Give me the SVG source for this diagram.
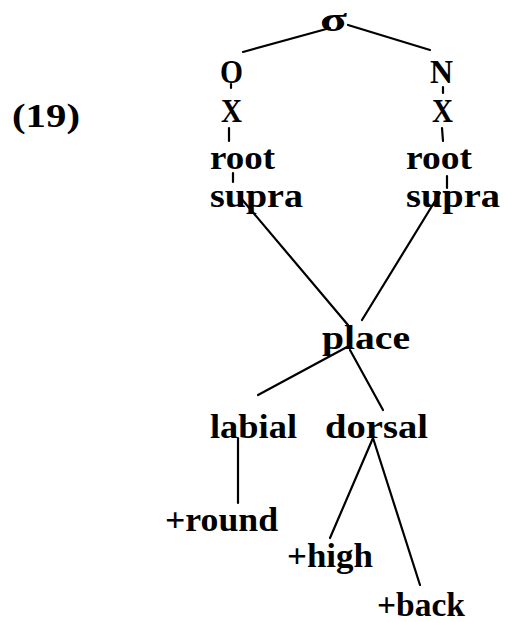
<svg xmlns="http://www.w3.org/2000/svg" width="506" height="622" viewBox="0 0 506 622">
<style>
text{font-family:"Liberation Serif","DejaVu Serif",serif;font-weight:bold;font-size:34px;fill:#000}
.c line{stroke:#000;stroke-width:2.2;stroke-linecap:round}
</style>
<rect width="506" height="622" fill="#fff"/>
<text x="12" y="127" textLength="68" lengthAdjust="spacingAndGlyphs">(19)</text>
<g class="c" id="connectors">
<line x1="243" y1="52" x2="330" y2="28"/>
<line x1="348" y1="25" x2="430" y2="50"/>
<line x1="231" y1="84" x2="231" y2="88"/>
<line x1="443" y1="87" x2="443" y2="93"/>
<line x1="229" y1="128" x2="229" y2="141"/>
<line x1="442" y1="128" x2="443" y2="141"/>
<line x1="233" y1="173" x2="233" y2="182"/>
<line x1="447" y1="176" x2="447" y2="188"/>
<line x1="240" y1="197" x2="348" y2="325"/>
<line x1="440" y1="193" x2="362" y2="320"/>
<line x1="347" y1="347" x2="258" y2="395"/>
<line x1="350" y1="350" x2="383" y2="410"/>
<line x1="238" y1="438" x2="238" y2="503"/>
<line x1="373" y1="438" x2="330" y2="538"/>
<line x1="373" y1="438" x2="420" y2="585"/>
</g>
<g id="sigma"><text x="320" y="31" textLength="27" lengthAdjust="spacingAndGlyphs">σ</text></g>
<g id="O"><text x="220" y="83" textLength="23" lengthAdjust="spacingAndGlyphs">O</text></g>
<g id="N"><text x="430" y="83" textLength="23" lengthAdjust="spacingAndGlyphs">N</text></g>
<g id="X1"><text x="221" y="122" textLength="21" lengthAdjust="spacingAndGlyphs">X</text></g>
<g id="X2"><text x="432" y="122" textLength="21" lengthAdjust="spacingAndGlyphs">X</text></g>
<g id="root1"><text x="210" y="169" textLength="65" lengthAdjust="spacingAndGlyphs">root</text></g>
<g id="root2"><text x="406" y="169" textLength="66" lengthAdjust="spacingAndGlyphs">root</text></g>
<g id="supra1"><text x="210" y="207" textLength="93" lengthAdjust="spacingAndGlyphs">supra</text></g>
<g id="supra2"><text x="406" y="207" textLength="94" lengthAdjust="spacingAndGlyphs">supra</text></g>
<g id="place"><text x="322" y="349" textLength="88" lengthAdjust="spacingAndGlyphs">place</text></g>
<g id="labial"><text x="210" y="438" textLength="87" lengthAdjust="spacingAndGlyphs">labial</text></g>
<g id="dorsal"><text x="325" y="438" textLength="103" lengthAdjust="spacingAndGlyphs">dorsal</text></g>
<g id="round"><text x="165" y="531" textLength="113" lengthAdjust="spacingAndGlyphs">+round</text></g>
<g id="high"><text x="287" y="567" textLength="86" lengthAdjust="spacingAndGlyphs">+high</text></g>
<g id="back"><text x="377" y="616" textLength="88" lengthAdjust="spacingAndGlyphs">+back</text></g>
</svg>
